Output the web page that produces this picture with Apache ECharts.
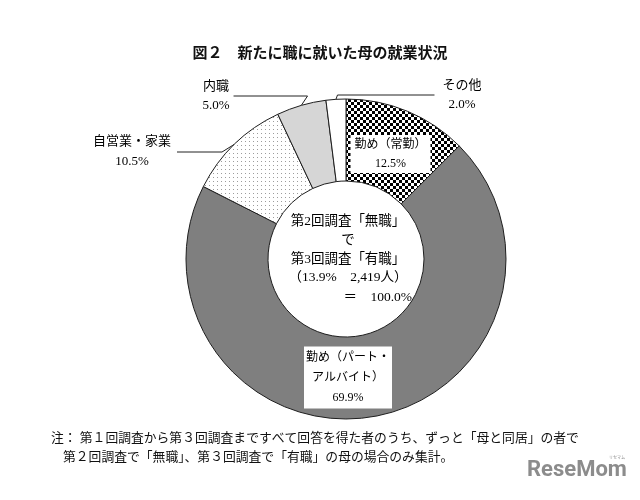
<!DOCTYPE html>
<html>
<head>
<meta charset="utf-8">
<script src="https://cdn.jsdelivr.net/npm/echarts@6/dist/echarts.min.js"></script>
<style>
html,body{margin:0;padding:0;background:#fff;}
#chart{width:640px;height:500px;}
</style>
</head>
<body>
<div id="chart"></div>
<script>
// ---- data ----
const categories = ['勤め（常勤）', '勤め（パート・アルバイト）', '自営業・家業', '内職', 'その他'];
const labelNames = ['勤め（常勤）', '勤め（パート・\nアルバイト）', '自営業・家業', '内職', 'その他'];
const values = [12.5, 69.9, 10.5, 5.0, 2.0];
const centerLines = ['第2回調査「無職」', 'で', '第3回調査「有職」', '（13.9%　2,419人）'];
const centerTotal = '＝　100.0%';
const titleText = '図２　新たに職に就いた母の就業状況';
const noteLines = [
  '注： 第１回調査から第３回調査まですべて回答を得た者のうち、ずっと「母と同居」の者で',
  '第２回調査で「無職」、第３回調査で「有職」の母の場合のみ集計。'
];

// ---- styles ----
const FONT = '"Liberation Serif", "Noto Sans CJK JP", serif';
const SANS = '"Noto Sans CJK JP", sans-serif';

function checkerPattern() {
  const c = document.createElement('canvas');
  c.width = 6; c.height = 6;
  const g = c.getContext('2d');
  g.fillStyle = '#000'; g.fillRect(0, 0, 6, 6);
  g.fillStyle = '#fff'; g.fillRect(0, 0, 3, 3); g.fillRect(3, 3, 3, 3);
  return c;
}
function dotPattern() {
  const c = document.createElement('canvas');
  c.width = 4; c.height = 4;
  const g = c.getContext('2d');
  g.fillStyle = '#fff'; g.fillRect(0, 0, 4, 4);
  g.fillStyle = '#9c9c9c'; g.fillRect(1, 1, 1, 1);
  return c;
}
const fills = [
  { image: checkerPattern(), repeat: 'repeat' },
  '#7f7f7f',
  { image: dotPattern(), repeat: 'repeat' },
  '#d6d6d6',
  '#ffffff'
];

// label appearance per slice
const labelStyles = [
  { position: 'inside', fontSize: 12, lineHeight: 19, backgroundColor: '#fff', padding: [0, 4] },
  { position: 'inside', fontSize: 12, lineHeight: 20, backgroundColor: '#fff', padding: [1, 2] },
  { position: 'outside', fontSize: 13, lineHeight: 20, backgroundColor: 'rgba(0,0,0,0)', padding: [26, 6, 0, 6] },
  { position: 'outside', fontSize: 13, lineHeight: 19, backgroundColor: 'rgba(0,0,0,0)', padding: [33, 4, 0, 4] },
  { position: 'outside', fontSize: 13, lineHeight: 19, backgroundColor: 'rgba(0,0,0,0)', padding: [35, 8, 0, 8] }
];
const lineStyles = [
  { show: false },
  { show: false },
  { show: true, length: 8, length2: 45 },
  { show: true, length: 8, length2: 74 },
  { show: true, length: 8, length2: 97 }
];
// label box centres (layout)
const labelSpots = [
  { x: 390.5, y: 154 },
  { x: 348, y: 377.5 },
  { x: 132, y: 152 },
  { x: 216, y: 96 },
  { x: 462, y: 95 }
];

const chart = echarts.init(document.getElementById('chart'), null, { renderer: 'canvas' });

const option = {
  backgroundColor: '#fff',
  animation: false,
  title: {
    text: titleText,
    left: 'center',
    top: 45,
    padding: 0,
    textStyle: { fontSize: 15, fontWeight: 'bold', color: '#111', fontFamily: SANS }
  },
  graphic: [
    {
      type: 'text', x: 348, y: 212.5, z: 100,
      style: {
        text: centerLines.join('\n'), fill: '#000', fontSize: 13.5, fontFamily: FONT,
        lineHeight: 18.7, textAlign: 'center', textVerticalAlign: 'top'
      }
    },
    {
      type: 'text', x: 412, y: 297, z: 100,
      style: {
        text: centerTotal, fill: '#000', fontSize: 13.5, fontFamily: FONT,
        textAlign: 'right', textVerticalAlign: 'middle'
      }
    },
    {
      type: 'text', x: 51, y: 439,
      style: { text: noteLines[0], fill: '#111', fontSize: 12.8, fontFamily: FONT, textAlign: 'left', textVerticalAlign: 'middle' }
    },
    {
      type: 'text', x: 63, y: 458,
      style: { text: noteLines[1], fill: '#111', fontSize: 12.8, fontFamily: FONT, textAlign: 'left', textVerticalAlign: 'middle' }
    },
    {
      type: 'text', x: 527, y: 470,
      style: { text: 'ReseMom', fill: '#8c8c8c', fontSize: 22, fontWeight: 'bold', fontFamily: 'Roboto, sans-serif', textAlign: 'left', textVerticalAlign: 'middle' }
    },
    {
      type: 'text', x: 617, y: 457,
      style: { text: 'リセマム', fill: '#8c8c8c', fontSize: 4, fontFamily: SANS, textAlign: 'center', textVerticalAlign: 'middle' }
    }
  ],
  series: [{
    type: 'pie',
    center: [346, 259],
    radius: [78, 160],
    startAngle: 90,
    clockwise: true,
    avoidLabelOverlap: false,
    silent: true,
    itemStyle: { borderColor: '#1e1e1e', borderWidth: 1 },
    label: {
      show: true,
      position: 'outside',
      color: '#000',
      fontFamily: FONT,
      align: 'center',
      formatter: function (p) {
        return labelNames[p.dataIndex] + '\n' + values[p.dataIndex].toFixed(1) + '%';
      }
    },
    labelLine: {
      show: true,
      minTurnAngle: 0,
      lineStyle: { color: '#222', width: 1 }
    },
    labelLayout: function (p) {
      const s = labelSpots[p.dataIndex];
      return { x: s.x, y: s.y, align: 'center', verticalAlign: 'middle' };
    },
    data: values.map(function (v, i) {
      return {
        name: categories[i],
        value: v,
        itemStyle: { color: fills[i] },
        label: Object.assign({ color: '#000', fontFamily: FONT, align: 'center' }, labelStyles[i]),
        labelLine: Object.assign({ minTurnAngle: 0, lineStyle: { color: '#222', width: 1 } }, lineStyles[i])
      };
    })
  }]
};
chart.setOption(option);
</script>
</body>
</html>
